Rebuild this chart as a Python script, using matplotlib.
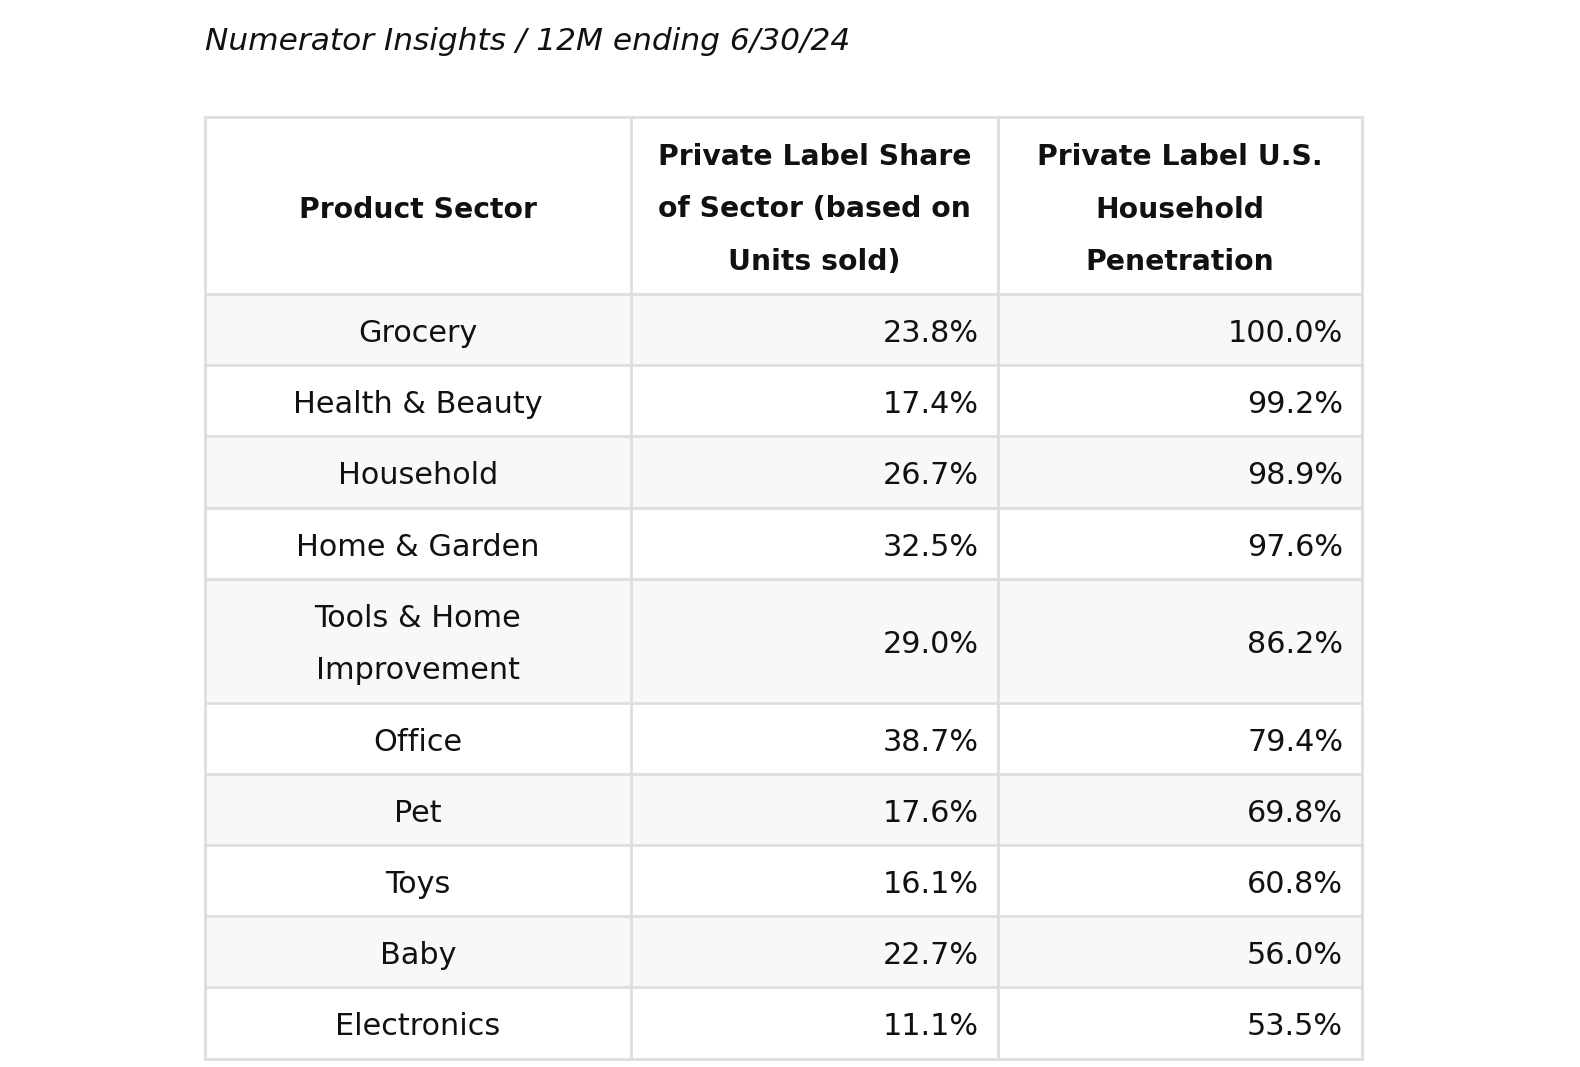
import matplotlib.pyplot as plt
from matplotlib.patches import Rectangle

# table content
title = "Numerator Insights / 12M ending 6/30/24"
headers = ["Product Sector",
           "Private Label Share\nof Sector (based on\nUnits sold)",
           "Private Label U.S.\nHousehold\nPenetration"]
sectors = ["Grocery", "Health & Beauty", "Household", "Home & Garden",
           "Tools & Home\nImprovement", "Office", "Pet", "Toys", "Baby",
           "Electronics"]
pl_share = [23.8, 17.4, 26.7, 32.5, 29.0, 38.7, 17.6, 16.1, 22.7, 11.1]
hh_penetration = [100.0, 99.2, 98.9, 97.6, 86.2, 79.4, 69.8, 60.8, 56.0, 53.5]

W, H = 1580, 1067
FONT = "DejaVu Sans"
LINE_H = 52.5          # pixel distance between wrapped lines
col_edges = [205, 631, 998, 1362]
table_top = 117
header_h = 177
single_row_h = 71.2
pad = 19
border = "#dedede"
stripe = "#f8f8f8"

fig = plt.figure(figsize=(W / 100, H / 100), dpi=100)
ax = fig.add_axes([0, 0, 1, 1])
ax.set_xlim(0, W)
ax.set_ylim(H, 0)
ax.axis("off")

ax.text(col_edges[0], 41, title, fontsize=22.5, fontstyle="italic",
        family=FONT, ha="left", va="center", color="#111111")


def draw_lines(text, x, yc, ha, size=21.8, **kw):
    lines = text.split("\n")
    y0 = yc - (len(lines) - 1) * LINE_H / 2 + 4
    for i, ln in enumerate(lines):
        ax.text(x, y0 + i * LINE_H, ln, ha=ha, va="center", family=FONT,
                fontsize=size, color="#111111", **kw)


# header
y = table_top
for j, h in enumerate(headers):
    xc = (col_edges[j] + col_edges[j + 1]) / 2
    draw_lines(h, xc, y + header_h / 2, "center", size=20.3, fontweight="bold")
row_tops = [y]
y += header_h

# body rows
for i, (sec, a, b) in enumerate(zip(sectors, pl_share, hh_penetration)):
    n = sec.count("\n") + 1
    rh = single_row_h if n == 1 else single_row_h + (n - 1) * LINE_H
    if i % 2 == 0:
        ax.add_patch(Rectangle((col_edges[0], y), col_edges[-1] - col_edges[0], rh,
                               facecolor=stripe, edgecolor="none", zorder=0))
    yc = y + rh / 2
    draw_lines(sec, (col_edges[0] + col_edges[1]) / 2, yc, "center")
    draw_lines(f"{a:.1f}%", col_edges[2] - pad, yc, "right")
    draw_lines(f"{b:.1f}%", col_edges[3] - pad, yc, "right")
    row_tops.append(y)
    y += rh
row_tops.append(y)

# grid lines
for yy in row_tops:
    ax.plot([col_edges[0], col_edges[-1]], [yy, yy], color=border, lw=2, zorder=1,
            solid_capstyle="projecting")
for xx in col_edges:
    ax.plot([xx, xx], [table_top, y], color=border, lw=2, zorder=1,
            solid_capstyle="projecting")

fig.savefig("out.png", dpi=100, facecolor="white")
